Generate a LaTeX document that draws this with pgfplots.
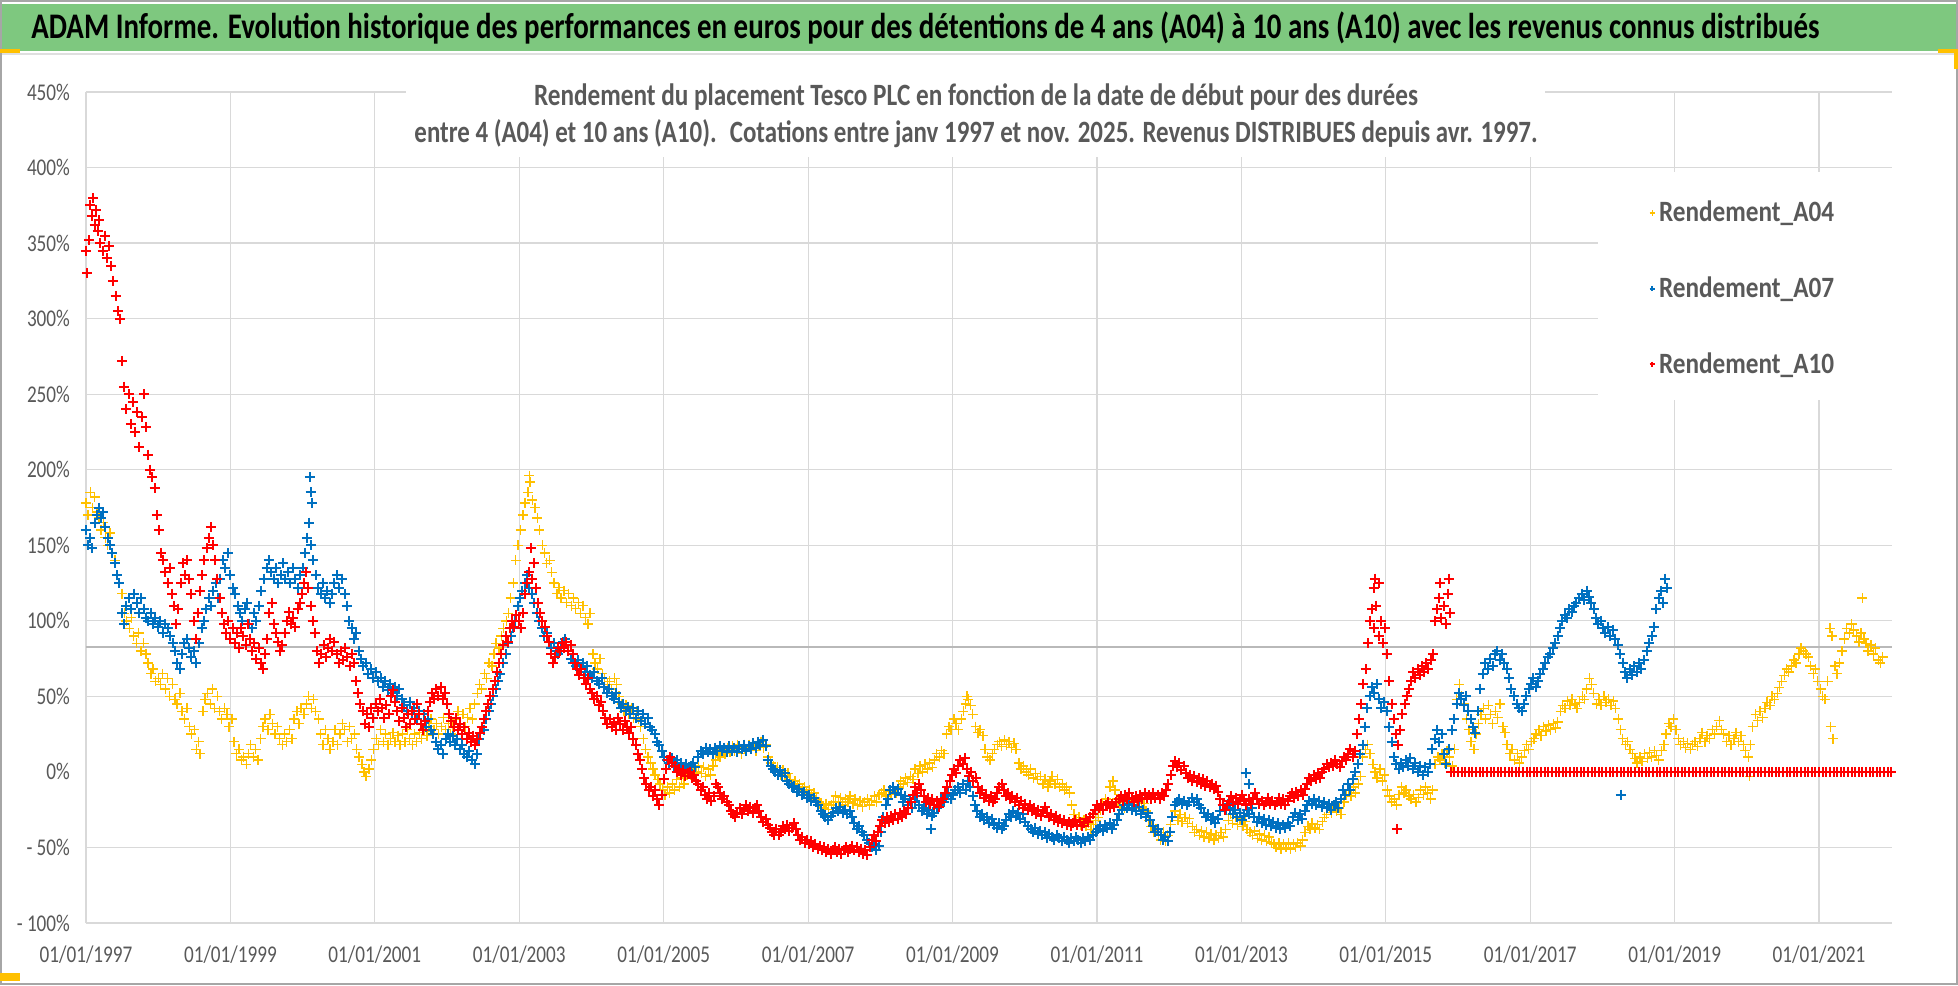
\documentclass[border=0pt]{standalone}
\usepackage{pgfplots}
\pgfplotsset{compat=1.18}
\usepackage{fontspec}
\setmainfont{Carlito}[FakeStretch=0.8]
\usepackage{graphicx}
\definecolor{yel}{HTML}{FFC000}
\definecolor{blu}{HTML}{0070C0}
\definecolor{rd}{HTML}{FF0000}
\definecolor{gridgray}{HTML}{D9D9D9}
\definecolor{txtgray}{HTML}{595959}
\definecolor{titlegreen}{HTML}{7EC87F}
\newcommand\legtext[1]{\resizebox{87.5pt}{\height}{\fontsize{14.75}{16}\selectfont\bfseries #1}}
\begin{document}
\begin{tikzpicture}[x=1pt,y=1pt]
\useasboundingbox (0,0) rectangle (979,492.5);
\fill[white] (0,0) rectangle (979,492.5);
\begin{axis}[
  at={(43pt,31pt)}, anchor=south west, scale only axis,
  width=903pt, height=415.5pt,
  xmin=1997, xmax=2022.01, ymin=-100, ymax=450,
  clip=false,
  axis line style={draw=none}, tick style={draw=none},
  grid=major, major grid style={draw=gridgray, line width=0.6pt},
  xtick={1997,1999,...,2021},
  xticklabels={01/01/1997,01/01/1999,01/01/2001,01/01/2003,01/01/2005,01/01/2007,01/01/2009,01/01/2011,01/01/2013,01/01/2015,01/01/2017,01/01/2019,01/01/2021},
  ytick={-100,-50,50,100,150,200,250,300,350,400,450},
  yticklabels={- 100\%,- 50\%,50\%,100\%,150\%,200\%,250\%,300\%,350\%,400\%,450\%},
  extra y ticks={0}, extra y tick labels={0\%}, extra y tick style={grid=none},
  ticklabel style={font=\fontsize{12}{14}\selectfont, text=txtgray},
  xticklabel style={yshift=-8pt},
  yticklabel style={xshift=-4.5pt},
  legend style={at={(0.8655,0.874)}, anchor=north west, draw=none, fill=none, row sep=22pt, inner sep=0pt, nodes={text=txtgray}},
  legend cell align=left,
  legend image code/.code={\draw[#1, mark size=1.4pt, line width=0.5pt] plot coordinates {(0pt,0pt)};},
]
\addplot[forget plot, draw=gray!55, line width=0.8pt] coordinates {(1997,82.7) (2022.01,82.7)};
% A04
\addplot[only marks, mark=+, mark size=2.5pt, color=yel, mark options={line width=0.7pt}] coordinates {
(1997.00,178)(1997.03,170)(1997.06,185)(1997.09,175)(1997.12,182)(1997.15,172)(1997.18,168)(1997.21,160)(1997.24,165)(1997.27,155)(1997.30,150)(1997.33,158)(1997.36,145)(1997.40,140)(1997.43,130)(1997.46,125)(1997.50,118)(1997.53,105)(1997.56,100)(1997.60,95)(1997.63,102)(1997.66,90)(1997.70,85)(1997.73,92)(1997.76,80)(1997.80,85)(1997.83,78)(1997.86,72)(1997.90,65)(1997.93,68)(1997.96,60)
(1998.00,62)(1998.03,58)(1998.06,65)(1998.10,55)(1998.13,62)(1998.16,50)(1998.20,58)(1998.23,48)(1998.26,45)(1998.30,52)(1998.33,40)(1998.36,35)(1998.40,42)(1998.43,30)(1998.46,25)(1998.50,28)(1998.53,15)(1998.56,20)(1998.58,12)(1998.62,40)(1998.65,48)(1998.68,52)(1998.72,45)(1998.75,55)(1998.78,42)(1998.82,50)(1998.85,40)(1998.88,35)(1998.92,42)(1998.95,38)(1998.98,30)
(1999.02,35)(1999.05,20)(1999.08,12)(1999.12,15)(1999.15,8)(1999.18,10)(1999.22,5)(1999.25,12)(1999.28,18)(1999.32,10)(1999.35,15)(1999.38,8)(1999.42,22)(1999.45,30)(1999.48,35)(1999.52,28)(1999.55,38)(1999.58,32)(1999.62,25)(1999.65,30)(1999.68,22)(1999.72,18)(1999.75,25)(1999.78,20)(1999.82,28)(1999.85,22)(1999.88,35)(1999.92,40)(1999.95,32)(1999.98,42)
(2000.02,38)(2000.05,45)(2000.08,50)(2000.12,42)(2000.15,48)(2000.18,40)(2000.22,35)(2000.25,25)(2000.28,18)(2000.32,28)(2000.35,22)(2000.38,15)(2000.42,20)(2000.45,28)(2000.48,18)(2000.52,25)(2000.55,32)(2000.58,28)(2000.62,20)(2000.65,30)(2000.68,22)(2000.72,25)(2000.75,15)(2000.78,10)(2000.82,5)(2000.85,0)(2000.88,-3)(2000.92,2)(2000.95,8)(2000.98,15)
(2001.02,22)(2001.05,18)(2001.08,28)(2001.12,20)(2001.15,25)(2001.18,18)(2001.22,22)(2001.25,26)(2001.28,20)(2001.32,24)(2001.35,18)(2001.38,25)(2001.42,20)(2001.45,28)(2001.48,22)(2001.52,18)(2001.55,25)(2001.58,20)(2001.62,26)(2001.65,22)(2001.68,28)(2001.72,24)(2001.75,30)(2001.78,35)(2001.82,28)(2001.85,32)(2001.88,25)(2001.92,30)(2001.95,36)(2001.98,28)
(2002.02,32)(2002.05,25)(2002.08,30)(2002.12,35)(2002.15,40)(2002.18,32)(2002.22,38)(2002.25,30)(2002.28,36)(2002.32,42)(2002.35,35)(2002.38,45)(2002.42,52)(2002.45,58)(2002.48,55)(2002.52,65)(2002.55,62)(2002.58,72)(2002.62,70)(2002.65,78)(2002.68,85)(2002.72,82)(2002.75,90)(2002.78,95)(2002.82,100)(2002.85,105)(2002.88,115)(2002.92,125)(2002.95,140)(2002.98,150)
(2003.02,160)(2003.05,170)(2003.08,178)(2003.12,185)(2003.14,196)(2003.15,192)(2003.18,180)(2003.22,175)(2003.25,168)(2003.28,160)(2003.32,150)(2003.35,145)(2003.38,138)(2003.42,140)(2003.45,132)(2003.48,125)(2003.52,118)(2003.55,122)(2003.58,115)(2003.62,120)(2003.65,112)(2003.68,118)(2003.72,110)(2003.75,115)(2003.78,108)(2003.82,112)(2003.85,105)(2003.88,110)(2003.92,102)(2003.95,98)(2003.98,105)
(2004.02,78)(2004.05,72)(2004.08,68)(2004.12,75)(2004.15,65)(2004.18,62)(2004.22,58)(2004.25,60)(2004.28,55)(2004.32,62)(2004.35,58)(2004.38,50)(2004.42,45)(2004.45,40)(2004.48,44)(2004.52,38)(2004.55,42)(2004.58,36)(2004.62,40)(2004.65,35)(2004.68,30)(2004.72,22)(2004.75,15)(2004.78,10)(2004.82,6)(2004.85,2)(2004.88,-2)(2004.92,-5)(2004.95,-8)(2004.98,-12)
(2005.02,-15)(2005.05,-10)(2005.08,-14)(2005.12,-8)(2005.15,-12)(2005.18,-5)(2005.22,-10)(2005.25,-4)(2005.28,-8)(2005.32,-2)(2005.35,2)(2005.38,-2)(2005.42,3)(2005.45,0)(2005.48,4)(2005.52,-1)(2005.55,3)(2005.58,-3)(2005.62,2)(2005.65,-2)(2005.68,4)(2005.72,8)(2005.75,12)(2005.78,10)(2005.82,14)(2005.85,12)(2005.88,16)(2005.92,13)(2005.95,17)(2005.98,14)
(2006.02,18)(2006.05,15)(2006.08,12)(2006.12,16)(2006.15,14)(2006.18,18)(2006.22,15)(2006.25,17)(2006.28,14)(2006.32,18)(2006.35,20)(2006.38,16)(2006.42,18)(2006.45,10)(2006.48,6)(2006.52,4)(2006.55,0)(2006.58,3)(2006.62,-2)(2006.65,1)(2006.68,-3)(2006.72,-1)(2006.75,-5)(2006.78,-8)(2006.82,-6)(2006.85,-10)(2006.88,-8)(2006.92,-12)(2006.95,-10)(2006.98,-14)
(2007.02,-12)(2007.05,-16)(2007.08,-14)(2007.12,-18)(2007.15,-20)(2007.18,-22)(2007.22,-24)(2007.25,-21)(2007.28,-25)(2007.32,-22)(2007.35,-20)(2007.38,-16)(2007.42,-20)(2007.45,-17)(2007.48,-22)(2007.52,-18)(2007.55,-20)(2007.58,-16)(2007.62,-21)(2007.65,-18)(2007.68,-22)(2007.72,-19)(2007.75,-23)(2007.78,-20)(2007.82,-18)(2007.85,-22)(2007.88,-19)(2007.92,-16)(2007.95,-20)(2007.98,-15)
(2008.02,-14)(2008.05,-12)(2008.08,-16)(2008.12,-13)(2008.15,-15)(2008.18,-12)(2008.22,-14)(2008.25,-10)(2008.28,-6)(2008.32,-8)(2008.35,-4)(2008.38,-7)(2008.42,-3)(2008.45,-5)(2008.48,2)(2008.52,-1)(2008.55,4)(2008.58,0)(2008.62,5)(2008.65,2)(2008.68,6)(2008.72,3)(2008.75,8)(2008.78,12)(2008.82,10)(2008.85,14)(2008.88,12)(2008.92,25)(2008.95,30)(2008.98,28)
(2009.02,35)(2009.05,32)(2009.08,28)(2009.12,35)(2009.15,40)(2009.18,45)(2009.20,50)(2009.22,48)(2009.25,44)(2009.28,38)(2009.32,30)(2009.35,26)(2009.38,28)(2009.42,24)(2009.45,15)(2009.48,10)(2009.52,8)(2009.55,12)(2009.58,15)(2009.62,18)(2009.65,20)(2009.68,17)(2009.72,21)(2009.75,18)(2009.78,20)(2009.82,16)(2009.85,19)(2009.88,15)(2009.92,6)(2009.95,2)(2009.98,4)
(2010.02,0)(2010.05,-2)(2010.08,2)(2010.12,-4)(2010.15,-1)(2010.18,-5)(2010.22,-3)(2010.25,-8)(2010.28,-5)(2010.32,-10)(2010.35,-6)(2010.38,-3)(2010.42,-8)(2010.45,-5)(2010.48,-10)(2010.52,-8)(2010.55,-12)(2010.58,-10)(2010.62,-14)(2010.65,-22)(2010.68,-28)(2010.72,-32)(2010.75,-30)(2010.78,-35)(2010.82,-32)(2010.85,-36)(2010.88,-34)(2010.92,-38)(2010.95,-35)(2010.98,-32)
(2011.02,-30)(2011.05,-25)(2011.08,-22)(2011.12,-18)(2011.15,-20)(2011.18,-10)(2011.22,-6)(2011.25,-12)(2011.28,-18)(2011.32,-22)(2011.35,-20)(2011.38,-24)(2011.42,-20)(2011.45,-18)(2011.48,-22)(2011.52,-19)(2011.55,-23)(2011.58,-20)(2011.62,-24)(2011.65,-21)(2011.68,-26)(2011.72,-32)(2011.75,-36)(2011.78,-40)(2011.82,-38)(2011.85,-42)(2011.88,-45)(2011.92,-40)(2011.95,-46)(2011.98,-42)
(2012.02,-35)(2012.05,-30)(2012.08,-26)(2012.12,-32)(2012.15,-28)(2012.18,-33)(2012.22,-30)(2012.25,-34)(2012.28,-31)(2012.32,-36)(2012.35,-40)(2012.38,-38)(2012.42,-42)(2012.45,-39)(2012.48,-43)(2012.52,-40)(2012.55,-44)(2012.58,-41)(2012.62,-45)(2012.65,-42)(2012.68,-44)(2012.72,-40)(2012.75,-43)(2012.78,-38)(2012.82,-32)(2012.85,-28)(2012.88,-34)(2012.92,-30)(2012.95,-35)(2012.98,-31)
(2013.02,-36)(2013.05,-33)(2013.08,-38)(2013.12,-40)(2013.15,-42)(2013.18,-39)(2013.22,-44)(2013.25,-41)(2013.28,-45)(2013.32,-42)(2013.35,-46)(2013.38,-43)(2013.42,-47)(2013.45,-48)(2013.48,-50)(2013.52,-47)(2013.55,-51)(2013.58,-48)(2013.62,-50)(2013.65,-47)(2013.68,-51)(2013.72,-48)(2013.75,-50)(2013.78,-47)(2013.82,-49)(2013.85,-45)(2013.88,-40)(2013.92,-36)(2013.95,-38)(2013.98,-34)
(2014.02,-37)(2014.05,-35)(2014.08,-38)(2014.12,-33)(2014.15,-30)(2014.18,-28)(2014.22,-24)(2014.25,-27)(2014.28,-23)(2014.32,-26)(2014.35,-24)(2014.38,-28)(2014.42,-20)(2014.45,-15)(2014.48,-12)(2014.52,-16)(2014.55,-10)(2014.58,-14)(2014.62,-8)(2014.65,-3)(2014.68,10)(2014.72,15)(2014.75,18)(2014.78,12)(2014.82,5)(2014.85,0)(2014.88,-4)(2014.92,2)(2014.95,-6)(2014.98,-2)
(2015.02,-12)(2015.05,-16)(2015.08,-20)(2015.12,-18)(2015.15,-22)(2015.18,-15)(2015.22,-10)(2015.25,-14)(2015.28,-12)(2015.32,-16)(2015.35,-18)(2015.38,-15)(2015.42,-20)(2015.45,-17)(2015.48,-12)(2015.52,-15)(2015.55,-10)(2015.58,-14)(2015.62,-18)(2015.65,-12)(2015.68,5)(2015.72,10)(2015.75,8)(2015.78,12)(2015.82,6)(2015.85,14)(2015.88,10)(2015.92,4)(2015.95,15)(2015.98,48)
(2016.02,58)(2016.05,50)(2016.08,45)(2016.12,35)(2016.15,28)(2016.18,20)(2016.22,15)(2016.25,25)(2016.28,32)(2016.32,38)(2016.35,42)(2016.38,35)(2016.42,44)(2016.45,38)(2016.48,32)(2016.52,40)(2016.55,36)(2016.58,45)(2016.62,30)(2016.65,26)(2016.68,18)(2016.72,12)(2016.75,15)(2016.78,8)(2016.82,12)(2016.85,6)(2016.88,10)(2016.92,14)(2016.95,18)(2016.98,15)
(2017.02,20)(2017.05,22)(2017.08,25)(2017.12,28)(2017.15,24)(2017.18,30)(2017.22,27)(2017.25,31)(2017.28,28)(2017.32,32)(2017.35,29)(2017.38,33)(2017.42,40)(2017.45,44)(2017.48,42)(2017.52,47)(2017.55,44)(2017.58,48)(2017.62,45)(2017.65,42)(2017.68,46)(2017.72,50)(2017.75,48)(2017.78,55)(2017.82,62)(2017.85,58)(2017.88,52)(2017.92,45)(2017.95,48)(2017.98,44)
(2018.02,50)(2018.05,46)(2018.08,48)(2018.12,44)(2018.15,47)(2018.18,42)(2018.22,35)(2018.25,28)(2018.28,22)(2018.32,18)(2018.35,20)(2018.38,15)(2018.42,12)(2018.45,9)(2018.48,6)(2018.52,10)(2018.55,7)(2018.58,12)(2018.62,9)(2018.65,13)(2018.68,10)(2018.72,14)(2018.75,11)(2018.78,8)(2018.82,14)(2018.85,18)(2018.88,25)(2018.92,32)(2018.95,30)(2018.98,35)
(2019.02,28)(2019.05,22)(2019.08,18)(2019.12,20)(2019.15,16)(2019.18,19)(2019.22,15)(2019.25,18)(2019.28,20)(2019.32,17)(2019.35,22)(2019.38,26)(2019.42,20)(2019.45,24)(2019.48,22)(2019.52,28)(2019.55,25)(2019.58,30)(2019.62,34)(2019.65,28)(2019.68,25)(2019.72,20)(2019.75,24)(2019.78,18)(2019.82,22)(2019.85,26)(2019.88,20)(2019.92,24)(2019.95,18)(2019.98,14)
(2020.02,10)(2020.04,-3)(2020.05,18)(2020.08,30)(2020.12,38)(2020.15,34)(2020.18,40)(2020.22,36)(2020.25,42)(2020.28,46)(2020.32,44)(2020.35,50)(2020.38,48)(2020.42,52)(2020.45,56)(2020.48,60)(2020.52,64)(2020.55,68)(2020.58,66)(2020.62,70)(2020.65,74)(2020.68,72)(2020.72,78)(2020.75,82)(2020.78,80)(2020.82,78)(2020.85,76)(2020.88,70)(2020.92,65)(2020.95,68)(2020.98,60)
(2021.02,55)(2021.05,50)(2021.08,48)(2021.12,60)(2021.15,95)(2021.16,30)(2021.18,90)(2021.19,22)(2021.22,70)(2021.25,65)(2021.28,72)(2021.32,80)(2021.35,88)(2021.38,95)(2021.42,92)(2021.45,98)(2021.48,94)(2021.52,90)(2021.55,86)(2021.58,92)(2021.60,115)(2021.62,88)(2021.65,85)(2021.68,80)(2021.72,84)(2021.75,78)(2021.78,82)(2021.82,74)(2021.85,72)(2021.88,76)
};
\addlegendentry{\legtext{Rendement\_A04}}
% A07
\addplot[only marks, mark=+, mark size=2.5pt, color=blu, mark options={line width=1pt}] coordinates {
(1997.00,160)(1997.03,150)(1997.06,155)(1997.09,148)(1997.12,165)(1997.15,170)(1997.18,175)(1997.21,168)(1997.24,172)(1997.27,162)(1997.30,155)(1997.33,150)(1997.36,145)(1997.40,138)(1997.43,130)(1997.46,125)(1997.50,105)(1997.53,98)(1997.56,110)(1997.60,115)(1997.63,108)(1997.66,118)(1997.70,112)(1997.73,105)(1997.76,115)(1997.80,108)(1997.83,102)(1997.86,100)(1997.90,105)(1997.93,98)(1997.96,102)
(1998.00,96)(1998.03,100)(1998.06,92)(1998.10,98)(1998.13,95)(1998.16,90)(1998.20,85)(1998.23,80)(1998.26,72)(1998.30,68)(1998.33,78)(1998.36,85)(1998.40,88)(1998.43,82)(1998.46,76)(1998.50,80)(1998.53,72)(1998.56,85)(1998.60,95)(1998.63,100)(1998.66,108)(1998.70,115)(1998.73,110)(1998.76,120)(1998.80,125)(1998.83,115)(1998.86,128)(1998.90,140)(1998.93,135)(1998.96,145)
(1999.00,130)(1999.03,122)(1999.06,118)(1999.10,110)(1999.13,105)(1999.16,100)(1999.20,108)(1999.23,112)(1999.26,98)(1999.30,95)(1999.33,105)(1999.36,100)(1999.40,110)(1999.43,120)(1999.46,128)(1999.50,135)(1999.53,140)(1999.56,132)(1999.60,128)(1999.63,135)(1999.66,125)(1999.70,130)(1999.73,138)(1999.76,128)(1999.80,132)(1999.83,125)(1999.86,135)(1999.90,128)(1999.93,122)(1999.96,130)
(2000.00,135)(2000.03,145)(2000.06,155)(2000.09,165)(2000.10,195)(2000.11,185)(2000.12,150)(2000.13,178)(2000.15,140)(2000.18,130)(2000.21,122)(2000.25,118)(2000.28,125)(2000.31,115)(2000.34,120)(2000.38,112)(2000.41,118)(2000.44,125)(2000.48,130)(2000.51,122)(2000.54,128)(2000.58,118)(2000.61,110)(2000.64,100)(2000.68,95)(2000.71,88)(2000.74,92)(2000.78,80)(2000.81,75)(2000.84,70)(2000.88,72)(2000.91,65)(2000.94,68)(2000.98,62)
(2001.01,66)(2001.04,60)(2001.08,62)(2001.11,56)(2001.14,60)(2001.18,54)(2001.21,58)(2001.24,52)(2001.28,56)(2001.31,50)(2001.34,55)(2001.38,48)(2001.41,44)(2001.44,40)(2001.48,46)(2001.51,38)(2001.54,42)(2001.58,35)(2001.61,40)(2001.64,32)(2001.68,38)(2001.71,30)(2001.74,35)(2001.78,28)(2001.81,25)(2001.84,20)(2001.88,15)(2001.91,18)(2001.94,12)(2001.98,22)
(2002.01,25)(2002.04,20)(2002.08,24)(2002.11,18)(2002.14,22)(2002.18,15)(2002.21,18)(2002.24,12)(2002.28,10)(2002.31,14)(2002.34,8)(2002.38,5)(2002.41,12)(2002.44,22)(2002.48,30)(2002.51,28)(2002.54,35)(2002.58,40)(2002.61,45)(2002.64,50)(2002.68,55)(2002.71,60)(2002.74,65)(2002.78,72)(2002.81,78)(2002.84,85)(2002.88,90)(2002.91,95)(2002.94,100)(2002.98,110)
(2003.01,115)(2003.04,120)(2003.08,125)(2003.11,130)(2003.14,122)(2003.18,118)(2003.21,112)(2003.24,105)(2003.28,100)(2003.31,95)(2003.34,90)(2003.38,92)(2003.41,86)(2003.44,82)(2003.48,85)(2003.51,80)(2003.54,78)(2003.58,82)(2003.61,86)(2003.64,88)(2003.68,80)(2003.71,75)(2003.74,72)(2003.78,70)(2003.81,74)(2003.84,68)(2003.88,72)(2003.91,66)(2003.94,70)(2003.98,64)
(2004.01,62)(2004.04,66)(2004.08,60)(2004.11,58)(2004.14,62)(2004.18,56)(2004.21,52)(2004.24,55)(2004.28,50)(2004.31,48)(2004.34,52)(2004.38,46)(2004.41,42)(2004.44,45)(2004.48,40)(2004.51,43)(2004.54,38)(2004.58,42)(2004.61,36)(2004.64,40)(2004.68,34)(2004.71,38)(2004.74,32)(2004.78,36)(2004.81,30)(2004.84,28)(2004.88,25)(2004.91,20)(2004.94,18)(2004.98,14)
(2005.01,10)(2005.04,8)(2005.08,6)(2005.11,9)(2005.14,4)(2005.18,8)(2005.21,3)(2005.24,6)(2005.28,2)(2005.31,5)(2005.34,1)(2005.38,4)(2005.41,6)(2005.44,3)(2005.48,10)(2005.51,14)(2005.54,12)(2005.58,16)(2005.61,13)(2005.64,15)(2005.68,12)(2005.71,16)(2005.74,14)(2005.78,17)(2005.81,14)(2005.84,16)(2005.88,13)(2005.91,17)(2005.94,14)(2005.98,16)
(2006.01,13)(2006.04,17)(2006.08,15)(2006.11,18)(2006.14,14)(2006.18,17)(2006.21,15)(2006.24,19)(2006.28,16)(2006.31,20)(2006.34,18)(2006.38,21)(2006.41,17)(2006.44,8)(2006.48,4)(2006.51,2)(2006.54,0)(2006.58,-2)(2006.61,1)(2006.64,-3)(2006.68,-1)(2006.71,-6)(2006.74,-8)(2006.78,-10)(2006.81,-9)(2006.84,-13)(2006.88,-11)(2006.91,-15)(2006.94,-13)(2006.98,-17)
(2007.01,-15)(2007.04,-19)(2007.08,-17)(2007.11,-20)(2007.14,-22)(2007.18,-26)(2007.21,-28)(2007.24,-30)(2007.28,-32)(2007.31,-29)(2007.34,-27)(2007.38,-24)(2007.41,-26)(2007.44,-23)(2007.48,-27)(2007.51,-25)(2007.54,-28)(2007.58,-26)(2007.61,-30)(2007.64,-34)(2007.68,-38)(2007.71,-36)(2007.74,-40)(2007.78,-42)(2007.81,-45)(2007.84,-47)(2007.88,-50)(2007.91,-48)(2007.94,-52)(2007.98,-49)
(2008.01,-40)(2008.04,-30)(2008.08,-22)(2008.11,-18)(2008.14,-12)(2008.18,-10)(2008.21,-14)(2008.24,-11)(2008.28,-15)(2008.31,-20)(2008.34,-16)(2008.38,-22)(2008.41,-18)(2008.44,-24)(2008.48,-20)(2008.51,-16)(2008.54,-22)(2008.58,-26)(2008.61,-24)(2008.64,-28)(2008.68,-25)(2008.70,-38)(2008.71,-29)(2008.74,-27)(2008.78,-24)(2008.81,-22)(2008.84,-18)(2008.88,-20)(2008.91,-16)(2008.94,-14)(2008.98,-18)
(2009.01,-15)(2009.04,-12)(2009.08,-10)(2009.11,-14)(2009.14,-8)(2009.18,-12)(2009.21,-6)(2009.24,-10)(2009.28,-16)(2009.31,-22)(2009.34,-26)(2009.38,-30)(2009.41,-28)(2009.44,-32)(2009.48,-30)(2009.51,-34)(2009.54,-31)(2009.58,-35)(2009.61,-37)(2009.64,-34)(2009.68,-38)(2009.71,-36)(2009.74,-32)(2009.78,-28)(2009.81,-30)(2009.84,-26)(2009.88,-29)(2009.91,-27)(2009.94,-31)(2009.98,-28)
(2010.01,-33)(2010.04,-36)(2010.08,-38)(2010.11,-40)(2010.14,-37)(2010.18,-41)(2010.21,-39)(2010.24,-42)(2010.28,-40)(2010.31,-44)(2010.34,-41)(2010.38,-43)(2010.41,-45)(2010.44,-42)(2010.48,-44)(2010.51,-46)(2010.54,-43)(2010.58,-45)(2010.61,-47)(2010.64,-44)(2010.68,-46)(2010.71,-43)(2010.74,-45)(2010.78,-47)(2010.81,-44)(2010.84,-46)(2010.88,-43)(2010.91,-45)(2010.94,-42)(2010.98,-40)
(2011.01,-38)(2011.04,-36)(2011.08,-39)(2011.11,-35)(2011.14,-37)(2011.18,-34)(2011.21,-38)(2011.24,-35)(2011.28,-32)(2011.31,-28)(2011.34,-25)(2011.38,-22)(2011.41,-24)(2011.44,-21)(2011.48,-25)(2011.51,-22)(2011.54,-26)(2011.58,-23)(2011.61,-28)(2011.64,-25)(2011.68,-30)(2011.71,-27)(2011.74,-32)(2011.78,-36)(2011.81,-40)(2011.84,-38)(2011.88,-42)(2011.91,-45)(2011.94,-43)(2011.98,-46)
(2012.01,-40)(2012.04,-30)(2012.08,-22)(2012.11,-20)(2012.14,-18)(2012.18,-21)(2012.21,-19)(2012.24,-22)(2012.28,-20)(2012.31,-17)(2012.34,-20)(2012.38,-18)(2012.41,-22)(2012.44,-24)(2012.48,-27)(2012.51,-30)(2012.54,-28)(2012.58,-32)(2012.61,-30)(2012.64,-34)(2012.68,-31)(2012.71,-26)(2012.74,-22)(2012.78,-25)(2012.81,-21)(2012.84,-24)(2012.88,-28)(2012.91,-25)(2012.94,-30)(2012.98,-27)
(2013.01,-32)(2013.04,-29)(2013.06,-1)(2013.08,-25)(2013.10,-8)(2013.11,-28)(2013.14,-24)(2013.18,-30)(2013.21,-33)(2013.24,-30)(2013.28,-34)(2013.31,-31)(2013.34,-35)(2013.38,-32)(2013.41,-36)(2013.44,-33)(2013.48,-37)(2013.51,-34)(2013.54,-38)(2013.58,-35)(2013.61,-37)(2013.64,-34)(2013.68,-36)(2013.71,-30)(2013.74,-27)(2013.78,-32)(2013.81,-28)(2013.84,-31)(2013.88,-26)(2013.91,-22)(2013.94,-19)(2013.98,-21)
(2014.01,-18)(2014.04,-22)(2014.08,-19)(2014.11,-23)(2014.14,-20)(2014.18,-24)(2014.21,-21)(2014.24,-25)(2014.28,-22)(2014.31,-20)(2014.34,-24)(2014.38,-18)(2014.41,-12)(2014.44,-15)(2014.48,-8)(2014.51,-12)(2014.54,-5)(2014.58,0)(2014.61,5)(2014.64,12)(2014.68,18)(2014.71,30)(2014.74,42)(2014.78,50)(2014.81,56)(2014.84,52)(2014.88,58)(2014.91,48)(2014.94,42)(2014.98,46)
(2015.01,40)(2015.04,30)(2015.08,20)(2015.11,10)(2015.14,5)(2015.18,2)(2015.21,6)(2015.24,3)(2015.28,8)(2015.31,4)(2015.34,9)(2015.38,2)(2015.41,6)(2015.44,0)(2015.48,4)(2015.51,-2)(2015.54,3)(2015.58,0)(2015.61,5)(2015.64,15)(2015.68,22)(2015.71,28)(2015.74,20)(2015.78,25)(2015.81,12)(2015.84,5)(2015.88,15)(2015.91,28)(2015.94,35)(2015.98,45)
(2016.01,52)(2016.04,48)(2016.08,44)(2016.11,50)(2016.14,40)(2016.18,35)(2016.21,30)(2016.24,26)(2016.28,40)(2016.31,55)(2016.34,65)(2016.38,72)(2016.41,68)(2016.44,75)(2016.48,70)(2016.51,78)(2016.54,80)(2016.58,74)(2016.61,78)(2016.64,72)(2016.68,68)(2016.71,62)(2016.74,55)(2016.78,50)(2016.81,45)(2016.84,42)(2016.88,40)(2016.91,45)(2016.94,50)(2016.98,55)
(2017.01,58)(2017.04,62)(2017.08,56)(2017.11,60)(2017.14,65)(2017.18,68)(2017.21,72)(2017.24,76)(2017.28,78)(2017.31,82)(2017.34,85)(2017.38,90)(2017.41,95)(2017.44,100)(2017.48,104)(2017.51,102)(2017.54,108)(2017.58,106)(2017.61,110)(2017.64,112)(2017.68,115)(2017.71,118)(2017.74,114)(2017.78,120)(2017.81,116)(2017.84,112)(2017.88,108)(2017.91,102)(2017.94,98)(2017.98,100)
(2018.01,95)(2018.04,92)(2018.08,96)(2018.11,90)(2018.14,94)(2018.18,88)(2018.21,84)(2018.24,78)(2018.25,-15)(2018.28,72)(2018.31,66)(2018.34,62)(2018.38,68)(2018.41,64)(2018.44,70)(2018.48,66)(2018.51,72)(2018.54,68)(2018.58,74)(2018.61,80)(2018.64,85)(2018.68,90)(2018.71,96)(2018.74,108)(2018.78,115)(2018.81,120)(2018.84,112)(2018.87,128)(2018.90,122)
};
\addlegendentry{\legtext{Rendement\_A07}}
% A10
\addplot[only marks, mark=+, mark size=2.5pt, color=rd, mark options={line width=1pt}] coordinates {
(1997.00,345)(1997.02,330)(1997.04,352)(1997.06,375)(1997.08,368)(1997.10,380)(1997.12,362)(1997.14,372)(1997.16,358)(1997.18,365)(1997.20,350)(1997.23,345)(1997.26,355)(1997.29,340)(1997.32,348)(1997.35,335)(1997.38,325)(1997.41,315)(1997.44,305)(1997.47,300)(1997.50,272)(1997.53,255)(1997.56,240)(1997.59,250)(1997.62,230)(1997.65,245)(1997.68,225)(1997.71,238)(1997.74,215)(1997.77,235)(1997.80,250)(1997.83,228)(1997.86,210)(1997.89,200)(1997.92,195)(1997.95,188)(1997.98,170)
(1998.01,160)(1998.04,145)(1998.07,140)(1998.10,132)(1998.13,125)(1998.16,135)(1998.19,118)(1998.22,110)(1998.25,98)(1998.28,108)(1998.31,125)(1998.34,138)(1998.37,130)(1998.40,140)(1998.43,128)(1998.46,118)(1998.49,100)(1998.52,88)(1998.55,105)(1998.58,120)(1998.61,130)(1998.64,140)(1998.67,148)(1998.70,155)(1998.73,162)(1998.76,150)(1998.79,140)(1998.82,128)(1998.85,115)(1998.88,105)(1998.91,98)(1998.94,92)(1998.97,100)
(1999.00,88)(1999.03,95)(1999.06,85)(1999.09,92)(1999.12,82)(1999.15,95)(1999.18,90)(1999.21,84)(1999.24,98)(1999.27,88)(1999.30,80)(1999.33,85)(1999.36,75)(1999.39,82)(1999.42,72)(1999.45,68)(1999.48,78)(1999.51,88)(1999.54,105)(1999.57,112)(1999.60,98)(1999.63,92)(1999.66,86)(1999.69,80)(1999.72,84)(1999.75,92)(1999.78,100)(1999.81,106)(1999.84,98)(1999.87,102)(1999.90,96)(1999.93,108)(1999.96,112)(1999.99,118)
(2000.02,125)(2000.05,132)(2000.08,122)(2000.11,110)(2000.14,100)(2000.17,92)(2000.20,80)(2000.23,72)(2000.26,78)(2000.29,84)(2000.32,76)(2000.35,82)(2000.38,88)(2000.41,80)(2000.44,86)(2000.47,78)(2000.50,72)(2000.53,80)(2000.56,74)(2000.59,82)(2000.62,76)(2000.65,70)(2000.68,78)(2000.71,72)(2000.74,60)(2000.77,52)(2000.80,45)(2000.83,40)(2000.86,32)(2000.89,38)(2000.92,30)(2000.95,42)(2000.98,36)
(2001.01,45)(2001.04,40)(2001.07,48)(2001.10,42)(2001.13,36)(2001.16,44)(2001.19,38)(2001.22,50)(2001.25,54)(2001.28,46)(2001.31,40)(2001.34,34)(2001.37,42)(2001.40,36)(2001.43,30)(2001.46,38)(2001.49,32)(2001.52,40)(2001.55,35)(2001.58,45)(2001.61,38)(2001.64,32)(2001.67,28)(2001.70,34)(2001.73,40)(2001.76,46)(2001.79,52)(2001.82,48)(2001.85,55)(2001.88,50)(2001.91,56)(2001.94,48)(2001.97,52)
(2002.00,45)(2002.03,38)(2002.06,34)(2002.09,30)(2002.12,36)(2002.15,28)(2002.18,32)(2002.21,25)(2002.24,30)(2002.27,22)(2002.30,26)(2002.33,20)(2002.36,24)(2002.39,18)(2002.42,22)(2002.45,26)(2002.48,30)(2002.51,35)(2002.54,40)(2002.57,45)(2002.60,50)(2002.63,55)(2002.66,60)(2002.69,66)(2002.72,72)(2002.75,78)(2002.78,84)(2002.81,90)(2002.84,86)(2002.87,95)(2002.90,100)(2002.93,96)(2002.96,104)(2002.99,100)
(2003.02,95)(2003.05,105)(2003.08,118)(2003.11,125)(2003.14,132)(2003.16,148)(2003.17,128)(2003.20,138)(2003.23,122)(2003.26,112)(2003.29,105)(2003.32,100)(2003.35,96)(2003.38,90)(2003.41,86)(2003.44,78)(2003.47,72)(2003.50,76)(2003.53,82)(2003.56,80)(2003.59,85)(2003.62,82)(2003.65,86)(2003.68,80)(2003.71,84)(2003.74,78)(2003.77,72)(2003.80,68)(2003.83,64)(2003.86,68)(2003.89,62)(2003.92,58)(2003.95,62)(2003.98,55)
(2004.01,52)(2004.04,48)(2004.07,50)(2004.10,44)(2004.13,46)(2004.16,40)(2004.19,36)(2004.22,32)(2004.25,35)(2004.28,30)(2004.31,33)(2004.34,28)(2004.37,36)(2004.40,32)(2004.43,28)(2004.46,34)(2004.49,30)(2004.52,26)(2004.55,30)(2004.58,22)(2004.61,18)(2004.64,12)(2004.67,8)(2004.70,2)(2004.73,-4)(2004.76,-8)(2004.79,-12)(2004.82,-10)(2004.85,-16)(2004.88,-12)(2004.91,-18)(2004.94,-22)(2004.97,-15)
(2005.00,-5)(2005.03,2)(2005.06,8)(2005.09,10)(2005.12,6)(2005.15,4)(2005.18,0)(2005.21,2)(2005.24,-2)(2005.27,1)(2005.30,-3)(2005.33,-1)(2005.36,0)(2005.39,-4)(2005.42,-2)(2005.45,-6)(2005.48,-8)(2005.51,-12)(2005.54,-10)(2005.57,-15)(2005.60,-18)(2005.63,-14)(2005.66,-19)(2005.69,-16)(2005.72,-8)(2005.75,-10)(2005.78,-14)(2005.81,-18)(2005.84,-16)(2005.87,-20)(2005.90,-22)(2005.93,-26)(2005.96,-28)(2005.99,-30)
(2006.02,-27)(2006.05,-24)(2006.08,-28)(2006.11,-25)(2006.14,-22)(2006.17,-26)(2006.20,-23)(2006.23,-27)(2006.26,-24)(2006.29,-22)(2006.32,-26)(2006.35,-30)(2006.38,-33)(2006.41,-31)(2006.44,-35)(2006.47,-37)(2006.50,-40)(2006.53,-42)(2006.56,-38)(2006.59,-42)(2006.62,-40)(2006.65,-36)(2006.68,-38)(2006.71,-35)(2006.74,-39)(2006.77,-37)(2006.80,-34)(2006.83,-38)(2006.86,-42)(2006.89,-45)(2006.92,-43)(2006.95,-47)(2006.98,-45)
(2007.01,-48)(2007.04,-46)(2007.07,-50)(2007.10,-48)(2007.13,-51)(2007.16,-49)(2007.19,-52)(2007.22,-50)(2007.25,-53)(2007.28,-51)(2007.31,-54)(2007.34,-52)(2007.37,-50)(2007.40,-53)(2007.43,-51)(2007.46,-54)(2007.49,-52)(2007.52,-50)(2007.55,-53)(2007.58,-51)(2007.61,-49)(2007.64,-52)(2007.67,-50)(2007.70,-53)(2007.73,-51)(2007.76,-54)(2007.79,-52)(2007.82,-55)(2007.85,-50)(2007.88,-45)(2007.91,-42)(2007.94,-46)(2007.97,-40)
(2008.00,-36)(2008.03,-32)(2008.06,-34)(2008.09,-30)(2008.12,-33)(2008.15,-29)(2008.18,-32)(2008.21,-28)(2008.24,-31)(2008.27,-27)(2008.30,-30)(2008.33,-26)(2008.36,-28)(2008.39,-24)(2008.42,-20)(2008.45,-15)(2008.48,-10)(2008.51,-14)(2008.54,-8)(2008.57,-12)(2008.60,-16)(2008.63,-20)(2008.66,-17)(2008.69,-21)(2008.72,-18)(2008.75,-22)(2008.78,-19)(2008.81,-23)(2008.84,-20)(2008.87,-18)(2008.90,-14)(2008.93,-10)(2008.96,-6)(2008.99,-2)
(2009.02,2)(2009.05,-1)(2009.08,4)(2009.11,8)(2009.14,5)(2009.17,9)(2009.20,2)(2009.23,-3)(2009.26,0)(2009.29,-6)(2009.32,-4)(2009.35,-10)(2009.38,-14)(2009.41,-12)(2009.44,-17)(2009.47,-15)(2009.50,-19)(2009.53,-16)(2009.56,-20)(2009.59,-18)(2009.62,-14)(2009.65,-10)(2009.68,-8)(2009.71,-12)(2009.74,-16)(2009.77,-14)(2009.80,-18)(2009.83,-16)(2009.86,-20)(2009.89,-17)(2009.92,-22)(2009.95,-19)(2009.98,-24)
(2010.01,-21)(2010.04,-25)(2010.07,-22)(2010.10,-26)(2010.13,-24)(2010.16,-28)(2010.19,-25)(2010.22,-29)(2010.25,-26)(2010.28,-23)(2010.31,-27)(2010.34,-30)(2010.37,-28)(2010.40,-32)(2010.43,-29)(2010.46,-33)(2010.49,-31)(2010.52,-34)(2010.55,-32)(2010.58,-35)(2010.61,-33)(2010.64,-36)(2010.67,-34)(2010.70,-32)(2010.73,-35)(2010.76,-33)(2010.79,-36)(2010.82,-34)(2010.85,-31)(2010.88,-33)(2010.91,-30)(2010.94,-28)(2010.97,-25)
(2011.00,-22)(2011.03,-24)(2011.06,-21)(2011.09,-25)(2011.12,-22)(2011.15,-20)(2011.18,-24)(2011.21,-21)(2011.24,-23)(2011.27,-20)(2011.30,-18)(2011.33,-16)(2011.36,-19)(2011.39,-15)(2011.42,-18)(2011.45,-14)(2011.48,-17)(2011.51,-20)(2011.54,-16)(2011.57,-19)(2011.60,-15)(2011.63,-18)(2011.66,-14)(2011.69,-17)(2011.72,-15)(2011.75,-18)(2011.78,-14)(2011.81,-17)(2011.84,-15)(2011.87,-18)(2011.90,-14)(2011.93,-16)(2011.96,-12)(2011.99,-8)
(2012.02,-2)(2012.05,4)(2012.08,7)(2012.11,3)(2012.14,6)(2012.17,1)(2012.20,4)(2012.23,-1)(2012.26,-4)(2012.29,-2)(2012.32,-6)(2012.35,-3)(2012.38,-7)(2012.41,-4)(2012.44,-8)(2012.47,-5)(2012.50,-9)(2012.53,-6)(2012.56,-10)(2012.59,-8)(2012.62,-11)(2012.65,-9)(2012.68,-13)(2012.71,-18)(2012.74,-22)(2012.77,-25)(2012.80,-22)(2012.83,-19)(2012.86,-16)(2012.89,-20)(2012.92,-17)(2012.95,-21)(2012.98,-18)
(2013.01,-15)(2013.04,-19)(2013.07,-22)(2013.10,-18)(2013.13,-21)(2013.16,-17)(2013.19,-14)(2013.22,-18)(2013.25,-21)(2013.28,-19)(2013.31,-22)(2013.34,-20)(2013.37,-17)(2013.40,-21)(2013.43,-19)(2013.46,-22)(2013.49,-20)(2013.52,-17)(2013.55,-21)(2013.58,-18)(2013.61,-22)(2013.64,-19)(2013.67,-16)(2013.70,-14)(2013.73,-17)(2013.76,-13)(2013.79,-16)(2013.82,-12)(2013.85,-15)(2013.88,-11)(2013.91,-8)(2013.94,-4)(2013.97,-6)
(2014.00,-2)(2014.03,-5)(2014.06,-1)(2014.09,-4)(2014.12,0)(2014.15,2)(2014.18,5)(2014.21,3)(2014.24,6)(2014.27,4)(2014.30,8)(2014.33,5)(2014.36,3)(2014.39,7)(2014.42,10)(2014.45,8)(2014.48,12)(2014.51,15)(2014.54,10)(2014.57,14)(2014.60,25)(2014.63,35)(2014.66,45)(2014.69,58)(2014.72,68)(2014.75,85)(2014.78,100)(2014.81,108)(2014.83,122)(2014.84,95)(2014.85,128)(2014.87,110)(2014.90,90)(2014.91,125)(2014.93,100)(2014.96,85)(2014.99,95)
(2015.02,78)(2015.05,60)(2015.08,45)(2015.11,35)(2015.14,25)(2015.16,-38)(2015.17,18)(2015.20,28)(2015.23,38)(2015.26,45)(2015.29,50)(2015.32,55)(2015.35,60)(2015.38,66)(2015.41,62)(2015.44,68)(2015.47,64)(2015.50,70)(2015.53,66)(2015.56,72)(2015.59,68)(2015.62,74)(2015.65,78)(2015.68,100)(2015.71,108)(2015.74,115)(2015.75,125)(2015.77,102)(2015.80,110)(2015.83,98)(2015.86,118)(2015.87,128)(2015.89,105)
(2015.90,0)(2015.95,0)(2016.00,0)(2016.05,0)(2016.10,0)(2016.15,0)(2016.20,0)(2016.25,0)(2016.30,0)(2016.35,0)(2016.40,0)(2016.45,0)(2016.50,0)(2016.55,0)(2016.60,0)(2016.65,0)(2016.70,0)(2016.75,0)(2016.80,0)(2016.85,0)(2016.90,0)(2016.95,0)
(2017.00,0)(2017.05,0)(2017.10,0)(2017.15,0)(2017.20,0)(2017.25,0)(2017.30,0)(2017.35,0)(2017.40,0)(2017.45,0)(2017.50,0)(2017.55,0)(2017.60,0)(2017.65,0)(2017.70,0)(2017.75,0)(2017.80,0)(2017.85,0)(2017.90,0)(2017.95,0)
(2018.00,0)(2018.05,0)(2018.10,0)(2018.15,0)(2018.20,0)(2018.25,0)(2018.30,0)(2018.35,0)(2018.40,0)(2018.45,0)(2018.50,0)(2018.55,0)(2018.60,0)(2018.65,0)(2018.70,0)(2018.75,0)(2018.80,0)(2018.85,0)(2018.90,0)(2018.95,0)
(2019.00,0)(2019.05,0)(2019.10,0)(2019.15,0)(2019.20,0)(2019.25,0)(2019.30,0)(2019.35,0)(2019.40,0)(2019.45,0)(2019.50,0)(2019.55,0)(2019.60,0)(2019.65,0)(2019.70,0)(2019.75,0)(2019.80,0)(2019.85,0)(2019.90,0)(2019.95,0)
(2020.00,0)(2020.05,0)(2020.10,0)(2020.15,0)(2020.20,0)(2020.25,0)(2020.30,0)(2020.35,0)(2020.40,0)(2020.45,0)(2020.50,0)(2020.55,0)(2020.60,0)(2020.65,0)(2020.70,0)(2020.75,0)(2020.80,0)(2020.85,0)(2020.90,0)(2020.95,0)
(2021.00,0)(2021.05,0)(2021.10,0)(2021.15,0)(2021.20,0)(2021.25,0)(2021.30,0)(2021.35,0)(2021.40,0)(2021.45,0)(2021.50,0)(2021.55,0)(2021.60,0)(2021.65,0)(2021.70,0)(2021.75,0)(2021.80,0)(2021.85,0)(2021.90,0)(2021.95,0)(2022.00,0)
};
\addlegendentry{\legtext{Rendement\_A10}}
% white box behind the legend (covers gridlines)
\fill[white] (rel axis cs:0.8372,0.6294) rectangle (rel axis cs:1.0,0.9037);
\end{axis}
% white box behind chart title (covers gridlines)
\fill[white] (203,414) rectangle (772.5,462);
% title bar
\fill[titlegreen] (0,467) rectangle (979,490.5);
\draw[gray!25, line width=1pt] (0,465.7) -- (979,465.7);
\node[anchor=west, inner sep=0pt] at (15.5,478.5) {\resizebox{894pt}{\height}{\fontsize{18}{20}\selectfont\bfseries ADAM Informe. Evolution historique des performances en euros pour des détentions de 4 ans (A04) à 10 ans (A10) avec les revenus connus distribués}};
% chart title
\node[inner sep=0pt, text=txtgray] at (488,444) {\resizebox{442pt}{\height}{\fontsize{15.5}{17}\selectfont\bfseries Rendement du placement Tesco PLC en fonction de la date de début pour des durées}};
\node[inner sep=0pt, text=txtgray] at (488,425.5) {\resizebox{561.5pt}{\height}{\fontsize{15.5}{17}\selectfont\bfseries entre 4 (A04) et 10 ans (A10).~ Cotations entre janv 1997 et nov. 2025. Revenus DISTRIBUES depuis avr. 1997.}};
% frame and selection handles
\draw[gray!70, line width=1pt] (0.5,0.5) rectangle (978.5,492);
\fill[yel] (0,466) rectangle (10,468);
\fill[yel] (969,466) rectangle (979,468);
\fill[yel] (977,458) rectangle (979,468);
\fill[yel] (0,2) rectangle (10,6);
\end{tikzpicture}
\end{document}
